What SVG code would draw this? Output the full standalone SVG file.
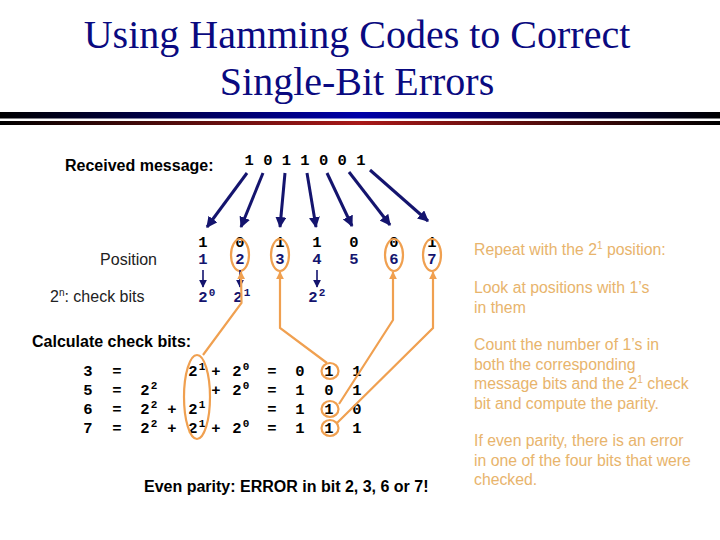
<svg xmlns="http://www.w3.org/2000/svg" width="720" height="540" viewBox="0 0 720 540">
<defs>
<linearGradient id="gBlue" x1="0" y1="0" x2="1" y2="0"><stop offset="0" stop-color="#000"/><stop offset="0.5" stop-color="#0000a8"/><stop offset="1" stop-color="#000"/></linearGradient>
<linearGradient id="gRed" x1="0" y1="0" x2="1" y2="0"><stop offset="0" stop-color="#000"/><stop offset="0.5" stop-color="#a81818"/><stop offset="1" stop-color="#000"/></linearGradient>
<marker id="aNavy" viewBox="0 0 10 10" refX="9" refY="5" markerWidth="11" markerHeight="11" markerUnits="userSpaceOnUse" orient="auto"><path d="M0,0 L10,5 L0,10 z" fill="#14146e"/></marker>
<marker id="aNavyS" viewBox="0 0 10 10" refX="9" refY="5" markerWidth="8" markerHeight="8" markerUnits="userSpaceOnUse" orient="auto"><path d="M0,0 L10,5 L0,10 z" fill="#14146e"/></marker>
<marker id="aOr" viewBox="0 0 10 10" refX="9" refY="5" markerWidth="8" markerHeight="8" markerUnits="userSpaceOnUse" orient="auto"><path d="M0,0 L10,5 L0,10 z" fill="#f0a050"/></marker>
</defs>
<style>
.title{font-family:"Liberation Serif",serif;font-size:40px;fill:#0a0a80;text-anchor:middle}
.bold{font-family:"Liberation Sans",sans-serif;font-weight:bold;font-size:16px;fill:#000}
.lab{font-family:"Liberation Sans",sans-serif;font-size:16px;fill:#222}
.note{font-family:"Liberation Sans",sans-serif;font-size:15.8px;fill:#e8b46c}
.m{font-family:"Liberation Mono",monospace;font-weight:bold;font-size:15.5px;fill:#000;text-anchor:middle}
.n{font-family:"Liberation Mono",monospace;font-weight:bold;font-size:15.5px;fill:#14146e;text-anchor:middle}
.sup{font-family:"Liberation Mono",monospace;font-weight:bold;font-size:11px;text-anchor:middle}
.navy{fill:#14146e}
.blk{fill:#000}
.arr{stroke:#14146e;stroke-width:3;fill:none}
.arrS{stroke:#14146e;stroke-width:1.6;fill:none}
.or{stroke:#f0a050;stroke-width:2.2;fill:none}
</style>
<rect width="720" height="540" fill="#fff"/>
<g id="title">
<text class="title" x="357" y="48">Using Hamming Codes to Correct</text>
<text class="title" x="357" y="95">Single-Bit Errors</text>
<rect x="0" y="112" width="720" height="6.5" fill="url(#gBlue)"/>
<rect x="0" y="121" width="720" height="4" fill="url(#gRed)"/>
</g>
<g id="received">
<text class="bold" x="65" y="171">Received message:</text>
<text class="m" x="305" y="165" text-anchor="middle">1 0 1 1 0 0 1</text>
</g>
<g id="bits">
<text class="m" x="203" y="247">1</text>
<text class="m" x="240" y="247">0</text>
<text class="m" x="280" y="247">1</text>
<text class="m" x="317" y="247">1</text>
<text class="m" x="354" y="247">0</text>
<text class="m" x="394" y="247">0</text>
<text class="m" x="432" y="247">1</text>
</g>
<g id="positions">
<text class="lab" x="157" y="265" text-anchor="end">Position</text>
<text class="n" x="203" y="264">1</text>
<text class="n" x="240" y="264">2</text>
<text class="n" x="280" y="264">3</text>
<text class="n" x="317" y="264">4</text>
<text class="n" x="354" y="264">5</text>
<text class="n" x="394" y="264">6</text>
<text class="n" x="432" y="264">7</text>
</g>
<g id="checkbits">
<text class="lab" x="50" y="302">2<tspan font-size="10" dy="-6">n</tspan><tspan dy="6">: check bits</tspan></text>
<text class="n" x="203" y="302">2</text><text class="sup navy" x="212" y="296">0</text>
<text class="n" x="238" y="302">2</text><text class="sup navy" x="247" y="296">1</text>
<text class="n" x="313" y="302">2</text><text class="sup navy" x="322" y="296">2</text>
</g>
<g id="calc">
<text class="bold" x="32" y="347">Calculate check bits:</text>
<g id="row3">
<text class="m" x="88" y="376">3</text><text class="m" x="117" y="376">=</text>
<text class="m" x="193" y="376">2</text><text class="sup blk" x="202" y="370">1</text>
<text class="m" x="216" y="376">+</text>
<text class="m" x="237" y="376">2</text><text class="sup blk" x="246" y="370">0</text>
<text class="m" x="272" y="376">=</text>
<text class="m" x="300" y="376">0</text><text class="m" x="329" y="376">1</text><text class="m" x="357" y="376">1</text>
</g>
<g id="row5">
<text class="m" x="88" y="395">5</text><text class="m" x="117" y="395">=</text>
<text class="m" x="145" y="395">2</text><text class="sup blk" x="154" y="389">2</text>
<text class="m" x="216" y="395">+</text>
<text class="m" x="237" y="395">2</text><text class="sup blk" x="246" y="389">0</text>
<text class="m" x="272" y="395">=</text>
<text class="m" x="300" y="395">1</text><text class="m" x="329" y="395">0</text><text class="m" x="357" y="395">1</text>
</g>
<g id="row6">
<text class="m" x="88" y="414">6</text><text class="m" x="117" y="414">=</text>
<text class="m" x="145" y="414">2</text><text class="sup blk" x="154" y="408">2</text>
<text class="m" x="172" y="414">+</text>
<text class="m" x="193" y="414">2</text><text class="sup blk" x="202" y="408">1</text>
<text class="m" x="272" y="414">=</text>
<text class="m" x="300" y="414">1</text><text class="m" x="329" y="414">1</text><text class="m" x="357" y="414">0</text>
</g>
<g id="row7">
<text class="m" x="88" y="433">7</text><text class="m" x="117" y="433">=</text>
<text class="m" x="145" y="433">2</text><text class="sup blk" x="154" y="427">2</text>
<text class="m" x="172" y="433">+</text>
<text class="m" x="193" y="433">2</text><text class="sup blk" x="202" y="427">1</text>
<text class="m" x="216" y="433">+</text>
<text class="m" x="237" y="433">2</text><text class="sup blk" x="246" y="427">0</text>
<text class="m" x="272" y="433">=</text>
<text class="m" x="300" y="433">1</text><text class="m" x="329" y="433">1</text><text class="m" x="357" y="433">1</text>
</g>
</g>
<g id="result">
<text class="bold" x="144" y="492">Even parity: ERROR in bit 2, 3, 6 or 7!</text>
</g>
<g id="notes">
<text class="note" x="474" y="255">Repeat with the 2<tspan font-size="10" dy="-6">1</tspan><tspan dy="6"> position:</tspan></text>
<text class="note" x="474" y="293">Look at positions with  1’s</text>
<text class="note" x="474" y="313">in them</text>
<text class="note" x="474" y="350">Count the number of 1’s in</text>
<text class="note" x="474" y="370">both the corresponding</text>
<text class="note" x="474" y="389">message bits and the 2<tspan font-size="10" dy="-6">1</tspan><tspan dy="6"> check</tspan></text>
<text class="note" x="474" y="409">bit and compute the parity.</text>
<text class="note" x="474" y="446">If even parity, there is an error</text>
<text class="note" x="474" y="466">in one of the four bits that were</text>
<text class="note" x="474" y="485">checked.</text>
</g>
<g id="highlights">
<ellipse class="or" cx="240" cy="255" rx="9" ry="16"/>
<ellipse class="or" cx="280" cy="255" rx="9" ry="16"/>
<ellipse class="or" cx="394" cy="255" rx="9" ry="16"/>
<ellipse class="or" cx="432" cy="255" rx="9" ry="16"/>
<ellipse class="or" cx="197" cy="397" rx="13" ry="42"/>
<ellipse class="or" cx="330" cy="371" rx="8.5" ry="8"/>
<ellipse class="or" cx="330" cy="409" rx="8.5" ry="8"/>
<ellipse class="or" cx="330" cy="428" rx="8.5" ry="8"/>
</g>
<g id="connectors">
<line class="arr" x1="247" y1="173" x2="207" y2="227" marker-end="url(#aNavy)"/>
<line class="arr" x1="263" y1="173" x2="241" y2="227" marker-end="url(#aNavy)"/>
<line class="arr" x1="285" y1="173" x2="280" y2="227" marker-end="url(#aNavy)"/>
<line class="arr" x1="307" y1="173" x2="316" y2="227" marker-end="url(#aNavy)"/>
<line class="arr" x1="327" y1="173" x2="352" y2="226" marker-end="url(#aNavy)"/>
<line class="arr" x1="349" y1="172" x2="390" y2="225" marker-end="url(#aNavy)"/>
<line class="arr" x1="370" y1="170" x2="428" y2="221" marker-end="url(#aNavy)"/>
<line class="arrS" x1="203" y1="270" x2="203" y2="287" marker-end="url(#aNavyS)"/>
<line class="arrS" x1="240" y1="270" x2="240" y2="287" marker-end="url(#aNavyS)"/>
<line class="arrS" x1="317" y1="270" x2="317" y2="287" marker-end="url(#aNavyS)"/>
<polyline class="or" points="203,355 241.5,303 241,272" marker-end="url(#aOr)"/>
<polyline class="or" points="327,363 280,328 280,272" marker-end="url(#aOr)"/>
<polyline class="or" points="339,404 393,320 393,272" marker-end="url(#aOr)"/>
<polyline class="or" points="337,423 433,328 433,272" marker-end="url(#aOr)"/>
</g>
</svg>
